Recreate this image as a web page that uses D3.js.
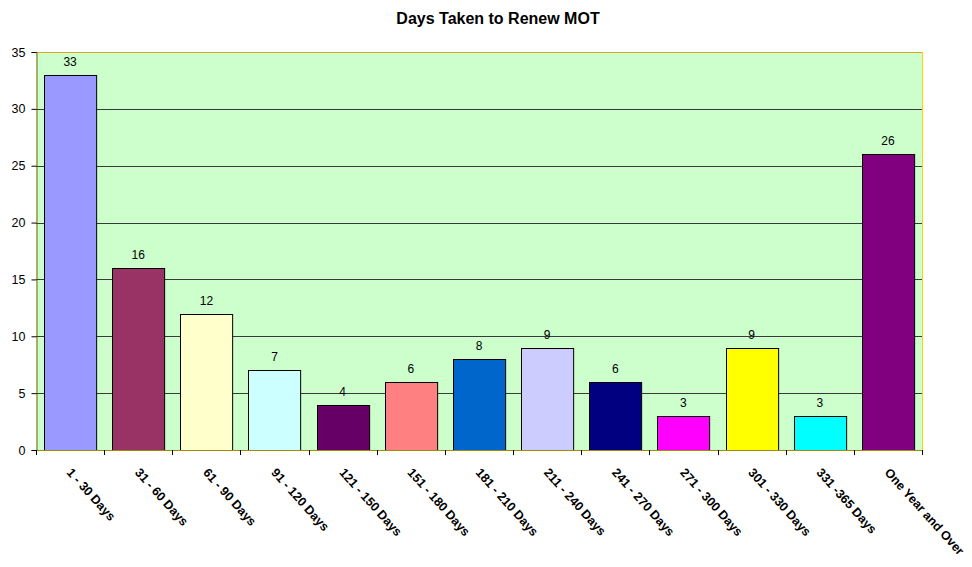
<!DOCTYPE html>
<html>
<head>
<meta charset="utf-8">
<script src="https://cdn.jsdelivr.net/npm/d3@7"></script>
<style>
  body { margin: 0; background: #fff; }
  text { font-family: "Liberation Sans", Arial, sans-serif; }
</style>
</head>
<body>
<script>
// DATA
const categories = ['1 - 30 Days', '31 - 60 Days', '61 - 90 Days', '91 - 120 Days', '121 - 150 Days',
  '151 - 180 Days', '181 - 210 Days', '211 - 240 Days', '241 - 270 Days', '271 - 300 Days',
  '301 - 330 Days', '331 -365 Days', 'One Year and Over'];
const values = [33, 16, 12, 7, 4, 6, 8, 9, 6, 3, 9, 3, 26];
const colors = ['#9999FF', '#993366', '#FFFFCC', '#CCFFFF', '#660066', '#FF8080', '#0066CC',
  '#CCCCFF', '#000080', '#FF00FF', '#FFFF00', '#00FFFF', '#800080'];
const yTicks = [0, 5, 10, 15, 20, 25, 30, 35];

const width = 972;
const height = 567;
const plotLeft = 36, plotRight = 922, plotTop = 52, plotBottom = 450;

const svg = d3.select('body').append('svg')
  .attr('width', width)
  .attr('height', height);

const x = d3.scaleBand()
  .domain(categories)
  .range([plotLeft, plotRight])
  .paddingInner(0.235)
  .paddingOuter(0.1175);

const y = d3.scaleLinear().domain([0, 35]).range([plotBottom, plotTop]);

// plot area
svg.append('rect')
  .attr('x', plotLeft).attr('y', plotTop)
  .attr('width', plotRight - plotLeft).attr('height', plotBottom - plotTop)
  .attr('fill', '#CCFFCC');

// top and right border of the plot area
svg.append('line')
  .attr('x1', plotLeft).attr('x2', plotRight + 1)
  .attr('y1', plotTop + 0.5).attr('y2', plotTop + 0.5)
  .attr('stroke', '#D4AA20');
svg.append('line')
  .attr('x1', plotRight + 0.5).attr('x2', plotRight + 0.5)
  .attr('y1', plotTop).attr('y2', plotBottom)
  .attr('stroke', '#FFD700');

// gridlines
svg.append('g')
  .selectAll('line')
  .data(yTicks.filter(d => d > 0 && d < 35))
  .join('line')
  .attr('x1', plotLeft).attr('x2', plotRight)
  .attr('y1', d => Math.round(y(d)) + 0.5)
  .attr('y2', d => Math.round(y(d)) + 0.5)
  .attr('stroke', '#3a3a3a')
  .attr('stroke-width', 1);

// bars
svg.append('g')
  .selectAll('rect')
  .data(values)
  .join('rect')
  .attr('x', (d, i) => Math.round(x(categories[i])) + 0.5)
  .attr('y', d => Math.round(y(d)) + 0.5)
  .attr('width', x.bandwidth())
  .attr('height', d => plotBottom - Math.round(y(d)))
  .attr('fill', (d, i) => colors[i])
  .attr('stroke', '#000')
  .attr('stroke-width', 1);

// value labels
svg.append('g')
  .selectAll('text')
  .data(values)
  .join('text')
  .attr('x', (d, i) => x(categories[i]) + x.bandwidth() / 2)
  .attr('y', d => y(d) - 9)
  .attr('text-anchor', 'middle')
  .attr('font-size', 12)
  .attr('fill', '#000')
  .text(d => d);

// y axis
const yAxis = svg.append('g')
  .attr('transform', `translate(${plotLeft + 0.5},0)`)
  .call(d3.axisLeft(y).tickValues(yTicks).tickSize(5).tickPadding(6));
yAxis.select('.domain').attr('stroke', '#806000');
yAxis.selectAll('.tick line').attr('stroke', '#000');
yAxis.selectAll('text')
  .attr('font-size', 12.5)
  .attr('font-family', '"Liberation Sans", Arial, sans-serif')
  .attr('fill', '#000');

// x axis ticks at category boundaries
const boundaries = d3.range(categories.length + 1).map(i => plotLeft + i * x.step());
svg.append('line')
  .attr('x1', plotLeft).attr('x2', plotRight)
  .attr('y1', plotBottom + 0.5).attr('y2', plotBottom + 0.5)
  .attr('stroke', '#A08C00');
svg.append('g')
  .selectAll('line')
  .data(boundaries)
  .join('line')
  .attr('x1', d => Math.round(d) + 0.5).attr('x2', d => Math.round(d) + 0.5)
  .attr('y1', plotBottom).attr('y2', plotBottom + 5)
  .attr('stroke', '#000');

// x labels, rotated
svg.append('g')
  .selectAll('text')
  .data(categories)
  .join('text')
  .attr('transform', d => `translate(${x(d) + x.bandwidth() / 2 - 4},${plotBottom + 23}) rotate(48)`)
  .attr('font-size', 12.5)
  .attr('font-weight', 'bold')
  .attr('fill', '#000')
  .text(d => d);

// title
svg.append('text')
  .attr('x', 498)
  .attr('y', 24)
  .attr('text-anchor', 'middle')
  .attr('font-size', 16)
  .attr('font-weight', 'bold')
  .text('Days Taken to Renew MOT');
</script>
</body>
</html>
